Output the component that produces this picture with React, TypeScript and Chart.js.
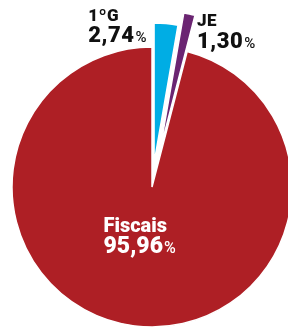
import React, { useEffect, useRef } from "react";
import { Chart, registerables } from "chart.js";

Chart.register(...registerables);

const categories = ["1ºG", "JE", "Fiscais"];
const values = [2.74, 1.3, 95.96];
const valueLabels = ["2,74", "1,30", "95,96"];
const colors = ["#00ADE4", "#6B2572", "#AE1F25"];
// outward shift (px) of each exploded slice along its mid-angle
const explode = [24, 37, 0];

const FONT = "Roboto, 'Noto Sans', sans-serif";

function drawBlock(
  ctx: CanvasRenderingContext2D,
  anchorX: number,
  align: "left" | "right" | "center",
  base1: number,
  base2: number,
  name: string,
  value: string,
  color: string,
  nameSize: number,
  valueSize: number,
  pctSize: number,
  spacing: number
) {
  ctx.save();
  ctx.textAlign = "left";
  ctx.textBaseline = "alphabetic";
  ctx.fillStyle = color;
  (ctx as any).letterSpacing = `${spacing}px`;
  ctx.font = `900 ${nameSize}px ${FONT}`;
  const nw = ctx.measureText(name).width;
  ctx.font = `900 ${valueSize}px ${FONT}`;
  const vw = ctx.measureText(value).width;
  ctx.font = `500 ${pctSize}px ${FONT}`;
  const pw = ctx.measureText("%").width;
  const bw = Math.max(nw, vw + pw + 1);
  let left = anchorX;
  if (align === "right") left = anchorX - bw;
  if (align === "center") left = anchorX - bw / 2;
  ctx.font = `900 ${nameSize}px ${FONT}`;
  ctx.fillText(name, left, base1);
  ctx.font = `900 ${valueSize}px ${FONT}`;
  ctx.fillText(value, left, base2);
  ctx.font = `500 ${pctSize}px ${FONT}`;
  ctx.fillText("%", left + vw + 1, base2);
  ctx.restore();
}

const explodePlugin = {
  id: "explodeSlices",
  afterUpdate(chart: any) {
    const meta = chart.getDatasetMeta(0);
    meta.data.forEach((arc: any, i: number) => {
      const mid = (arc.startAngle + arc.endAngle) / 2;
      arc.x = arc.x + Math.cos(mid) * explode[i];
      arc.y = arc.y + Math.sin(mid) * explode[i];
    });
  },
};

const labelPlugin = {
  id: "sliceLabels",
  afterDatasetsDraw(chart: any) {
    const ctx = chart.ctx as CanvasRenderingContext2D;
    const meta = chart.getDatasetMeta(0);
    meta.data.forEach((arc: any, i: number) => {
      const cx = arc.x;
      const cy = arc.y;
      const mid = (arc.startAngle + arc.endAngle) / 2;
      const R = arc.outerRadius;
      if (i === 0) {
        const kx = cx + Math.cos(arc.startAngle) * R;
        const ky = cy + Math.sin(arc.startAngle) * R;
        drawBlock(ctx, kx - 7, "right", ky - 2, ky + 19, categories[i], valueLabels[i], "#111111", 17, 22, 15, 0.5);
      } else if (i === 1) {
        const kx = cx + Math.cos(arc.endAngle) * R;
        const ky = cy + Math.sin(arc.endAngle) * R;
        drawBlock(ctx, kx + 2, "left", ky + 11, ky + 33, categories[i], valueLabels[i], "#111111", 17, 22, 15, 0.5);
      } else {
        const ax = cx + Math.cos(mid) * R * 0.36;
        const ay = cy + Math.sin(mid) * R * 0.36;
        drawBlock(ctx, ax - 6, "center", ay - 5, ay + 16, categories[i], valueLabels[i], "#ffffff", 20, 23, 16, 0);
      }
    });
  },
};

export default function App() {
  const ref = useRef<HTMLCanvasElement | null>(null);
  useEffect(() => {
    if (!ref.current) return;
    const chart = new Chart(ref.current, {
      type: "pie",
      data: {
        labels: categories,
        datasets: [
          {
            data: values,
            backgroundColor: colors,
            borderColor: "#ffffff",
            borderWidth: 1.5,
          } as any,
        ],
      },
      options: {
        animation: false,
        responsive: true,
        maintainAspectRatio: false,
        radius: 140,
        layout: { padding: { left: 16, top: 46, right: 0, bottom: 0 } },
        plugins: {
          legend: { display: false },
          tooltip: { enabled: false },
        },
      } as any,
      plugins: [explodePlugin, labelPlugin],
    });
    return () => chart.destroy();
  }, []);
  return (
    <div style={{ position: "absolute", left: 0, top: 0, width: 288, height: 328 }}>
      <canvas ref={ref} />
    </div>
  );
}
